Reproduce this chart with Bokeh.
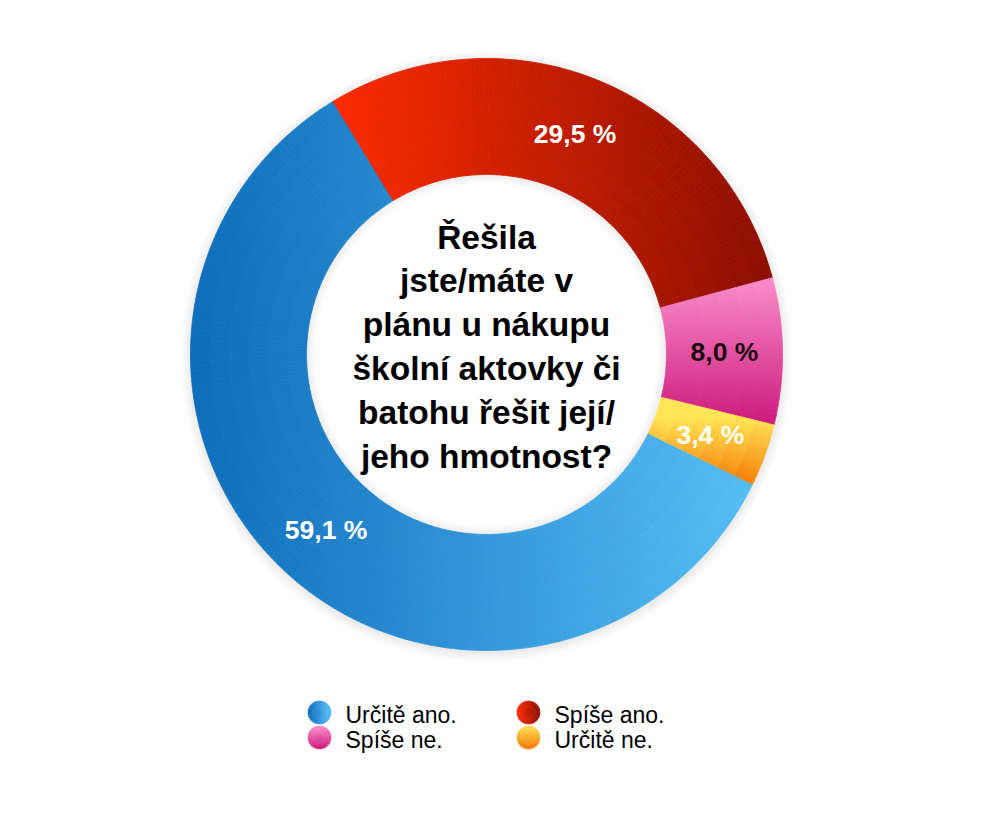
import math
from bokeh.plotting import figure
from bokeh.models import Range1d, ColumnDataSource
from bokeh.core.properties import value
from bokeh.embed import file_html
from bokeh.resources import INLINE

# ---------------- data ----------------
categories = ["Určitě ano.", "Spíše ano.", "Spíše ne.", "Určitě ne."]
shares = [59.1, 29.5, 8.0, 3.4]
label_colors = ["white", "white", "#1a0a10", "white"]
title_lines = ["Řešila", "jste/máte v", "plánu u nákupu",
               "školní aktovky či", "batohu řešit její/", "jeho hmotnost?"]

# ---------------- layout / style ----------------
W, H = 990, 820
CXP, CYP = 486, 354          # donut centre in page pixels
CX, CY = CXP, H - CYP        # in data units (1 unit = 1 px)
R_OUT, R_IN = 296, 180
START = 116.0                 # degrees, clockwise from 12 o'clock
FONT = "Liberation Sans"

# gradients per slice: (axis, from_px, to_px, rgb_from, rgb_to)
grads = [
    ("x", 190, 782, (12, 108, 186), (90, 194, 248)),
    ("x", 317, 775, (255, 44, 0), (138, 14, 0)),
    ("y", 277, 425, (250, 142, 204), (204, 24, 122)),
    ("y", 418, 488, (255, 228, 84), (245, 116, 0)),
]

def mix(c0, c1, t):
    t = min(1.0, max(0.0, t))
    c = [round(c0[k] + (c1[k] - c0[k]) * t) for k in range(3)]
    return "#%02x%02x%02x" % tuple(c)

def lerp_col(g, xp, yp):
    axis, a, b, c0, c1 = g
    v = xp if axis == "x" else yp
    return mix(c0, c1, (v - a) / (b - a))

p = figure(width=W, height=H, x_range=Range1d(0, W), y_range=Range1d(0, H),
           x_axis_type=None, y_axis_type=None, toolbar_location=None,
           output_backend="svg", min_border=0, outline_line_color=None,
           background_fill_color="white", border_fill_color="white")
p.grid.visible = False

# soft outer shadow
for k in range(10):
    p.annulus(x=CX, y=CY - 2, inner_radius=R_OUT - 2, outer_radius=R_OUT + k + 1,
              fill_color="black", fill_alpha=0.007, line_color=None)

# gradient-filled slices built from the shares
total = sum(shares)
xs, ys, ir, orr, sa, ea, cols = [], [], [], [], [], [], []
mids = []
theta = START
N_RING = 6
for i, s in enumerate(shares):
    span = 360.0 * s / total
    t0, t1 = theta, theta + span
    mids.append((t0 + t1) / 2)
    n_ang = max(2, int(math.ceil(span / 1.0)))
    for a in range(n_ang):
        ta = t0 + span * a / n_ang
        tb = t0 + span * (a + 1) / n_ang
        tm = math.radians((ta + tb) / 2)
        for rr in range(N_RING):
            ra = R_IN + (R_OUT - R_IN) * rr / N_RING
            rb = R_IN + (R_OUT - R_IN) * (rr + 1) / N_RING
            rm = (ra + rb) / 2
            xp = CXP + rm * math.sin(tm)
            yp = CYP - rm * math.cos(tm)
            xs.append(CX); ys.append(CY)
            ir.append(ra); orr.append(rb)
            sa.append(math.pi / 2 - math.radians(tb))
            ea.append(math.pi / 2 - math.radians(ta))
            cols.append(lerp_col(grads[i], xp, yp))
    theta = t1

src = ColumnDataSource(dict(x=xs, y=ys, ir=ir, orr=orr, sa=sa, ea=ea, c=cols))
p.annular_wedge(x="x", y="y", inner_radius="ir", outer_radius="orr",
                start_angle="sa", end_angle="ea", direction="anticlock",
                fill_color="c", line_color="c", line_width=0.8, source=src)

# inner soft shadow inside the hole
for k in range(9):
    p.annulus(x=CX, y=CY, inner_radius=R_IN - k - 1, outer_radius=R_IN,
              fill_color="black", fill_alpha=0.008, line_color=None)

# value labels at mid-angle, mid-radius
r_lab = (R_IN + R_OUT) / 2
lab_x = [CX + r_lab * math.sin(math.radians(m)) for m in mids]
lab_y = [CY + r_lab * math.cos(math.radians(m)) for m in mids]
lab_t = [("%.1f" % s).replace(".", ",") + " %" for s in shares]
p.text(x=lab_x, y=lab_y, text=lab_t, text_color=label_colors,
       text_font=value(FONT), text_font_style="bold", text_font_size="26.5px",
       text_align="center", text_baseline="middle")

# centre question
LINE_H = 43.8
tcy = 346
tx = [CX] * len(title_lines)
ty = [H - (tcy + (i - (len(title_lines) - 1) / 2) * LINE_H) for i in range(len(title_lines))]
p.text(x=tx, y=ty, text=title_lines, text_color="black",
       text_font=value(FONT), text_font_style="bold", text_font_size="33.5px",
       text_align="center", text_baseline="middle")

# legend (2 x 2) with small gradient markers
col_x = [319, 528, 319, 528]
row_y = [712, 712, 737, 737]
LR = 11.5
lg = dict(x=[], y=[], ir=[], orr=[], sa=[], ea=[], c=[])
for i in range(len(categories)):
    axis, a, b, c0, c1 = grads[i]
    for k in range(36):
        ta = 10.0 * k
        tb = 10.0 * (k + 1)
        tm = math.radians((ta + tb) / 2)
        for rr in range(3):
            ra = LR * rr / 3
            rb = LR * (rr + 1) / 3
            rm = (ra + rb) / 2
            u = rm * math.sin(tm) / LR if axis == "x" else -rm * math.cos(tm) / LR
            lg["x"].append(col_x[i]); lg["y"].append(H - row_y[i])
            lg["ir"].append(ra); lg["orr"].append(rb)
            lg["sa"].append(math.pi / 2 - math.radians(tb))
            lg["ea"].append(math.pi / 2 - math.radians(ta))
            lg["c"].append(mix(c0, c1, 0.5 + 0.5 * u))
p.annular_wedge(x="x", y="y", inner_radius="ir", outer_radius="orr",
                start_angle="sa", end_angle="ea", direction="anticlock",
                fill_color="c", line_color="c", line_width=0.6,
                source=ColumnDataSource(lg))
p.text(x=[c + 26 for c in col_x], y=[H - (r + 2) for r in row_y], text=categories,
       text_color="black", text_font=value(FONT), text_font_size="23px",
       text_align="left", text_baseline="middle")

open("out.html", "w").write(file_html(p, INLINE))
